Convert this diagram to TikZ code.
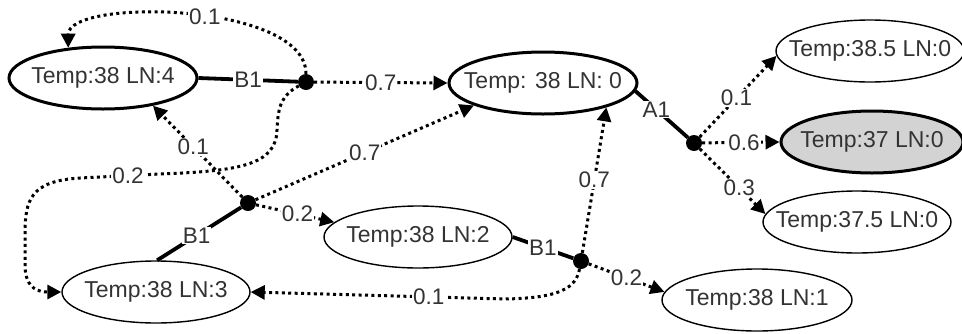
\documentclass[tikz,border=0pt]{standalone}
\usepackage{fontspec}
\setmainfont{Liberation Sans}
\usetikzlibrary{shapes.geometric,arrows.meta}
\definecolor{txt}{HTML}{333333}
\definecolor{grayfill}{HTML}{D3D3D3}
\begin{document}
\begin{tikzpicture}[x=1pt,y=-1pt,
  state/.style={ellipse, draw=black, line width=1.4pt, fill=white, inner sep=0pt,
    minimum width=188pt, minimum height=62pt, font=\fontsize{23}{27}\selectfont, text=txt},
  boldstate/.style={line width=3pt},
  dot/.style={circle, fill=black, inner sep=0pt, minimum size=16pt},
  solidedge/.style={line width=3.8pt},
  prob/.style={line width=3pt, dash pattern=on 3pt off 3.4pt,
    -{Triangle[length=14pt,width=14pt]}},
  lab/.style={fill=white, inner sep=1pt, font=\fontsize{22.5}{26}\selectfont, text=txt}]
\useasboundingbox (0,0) rectangle (962,333);

% states
\node[state, boldstate] (N4) at (103,78) {\makebox[0pt]{Temp:38 LN:4}};
\node[state, boldstate] (N0) at (543,83) {\makebox[0pt]{Temp: 38 LN: 0}};
\node[state] (N385) at (870,51) {\makebox[0pt]{Temp:38.5 LN:0}};
\node[state, boldstate, fill=grayfill, minimum width=182pt] (N37) at (872,142) {\makebox[0pt]{Temp:37 LN:0}};
\node[state] (N375) at (857,222) {\makebox[0pt]{Temp:37.5 LN:0}};
\node[state] (N3) at (156,292) {\makebox[0pt]{Temp:38 LN:3}};
\node[state] (N2) at (418,237) {\makebox[0pt]{Temp:38 LN:2}};
\node[state, minimum width=190pt] (N1) at (757,300) {\makebox[0pt]{Temp:38 LN:1}};

% decision dots
\node[dot] (D4) at (306,82) {};
\node[dot] (D0) at (694,143) {};
\node[dot] (D3) at (248,203) {};
\node[dot] (D2) at (581,261) {};

% actions
\draw[solidedge] (N4.east) -- node[lab]{B1} (D4);
\draw[solidedge] (N0.-5) -- node[lab, pos=0.4]{A1} (D0);
\draw[solidedge] (N3.88) -- node[lab, pos=0.47]{B1} (D3);
\draw[solidedge] (N2.east) -- node[lab]{B1} (D2);

% probabilistic outcomes
\draw[prob] (D4) .. controls +(0,-80) and +(0,-50) .. node[lab, pos=0.45]{0.1} (N4.139);
\draw[prob] (D4) -- node[lab, pos=0.5]{0.7} (N0.west);
\draw[prob] (D4) .. controls (282,95) and (278,105) .. (277,130)
  .. controls (276,165) and (240,171) .. (160,174)
  -- node[lab, pos=0.4]{0.2} (80,178)
  .. controls (30,181) and (25,200) .. (25,235) -- (25,265)
  .. controls (25,290) and (40,292) .. (N3.west);

\draw[prob] (D3) -- node[lab, pos=0.55]{0.1} (N4.331);
\draw[prob] (D3) -- node[lab, pos=0.5]{0.7} (N0.198);
\draw[prob] (D3) -- node[lab, pos=0.53]{0.2} (N2.170);

\draw[prob] (D2) -- node[lab, pos=0.5]{0.7} (N0.339);
\draw[prob] (D2) .. controls (576,288) and (560,298) .. (505,299)
  -- node[lab, pos=0.3]{0.1} (N3.east);
\draw[prob] (D2) -- node[lab, pos=0.5]{0.2} (N1.175);

\draw[prob] (D0) -- node[lab, pos=0.48]{0.1} (N385.183);
\draw[prob] (D0) -- node[lab, pos=0.54]{0.6} (N37.west);
\draw[prob] (D0) -- node[lab, pos=0.6]{0.3} (N375.175);
\end{tikzpicture}
\end{document}
